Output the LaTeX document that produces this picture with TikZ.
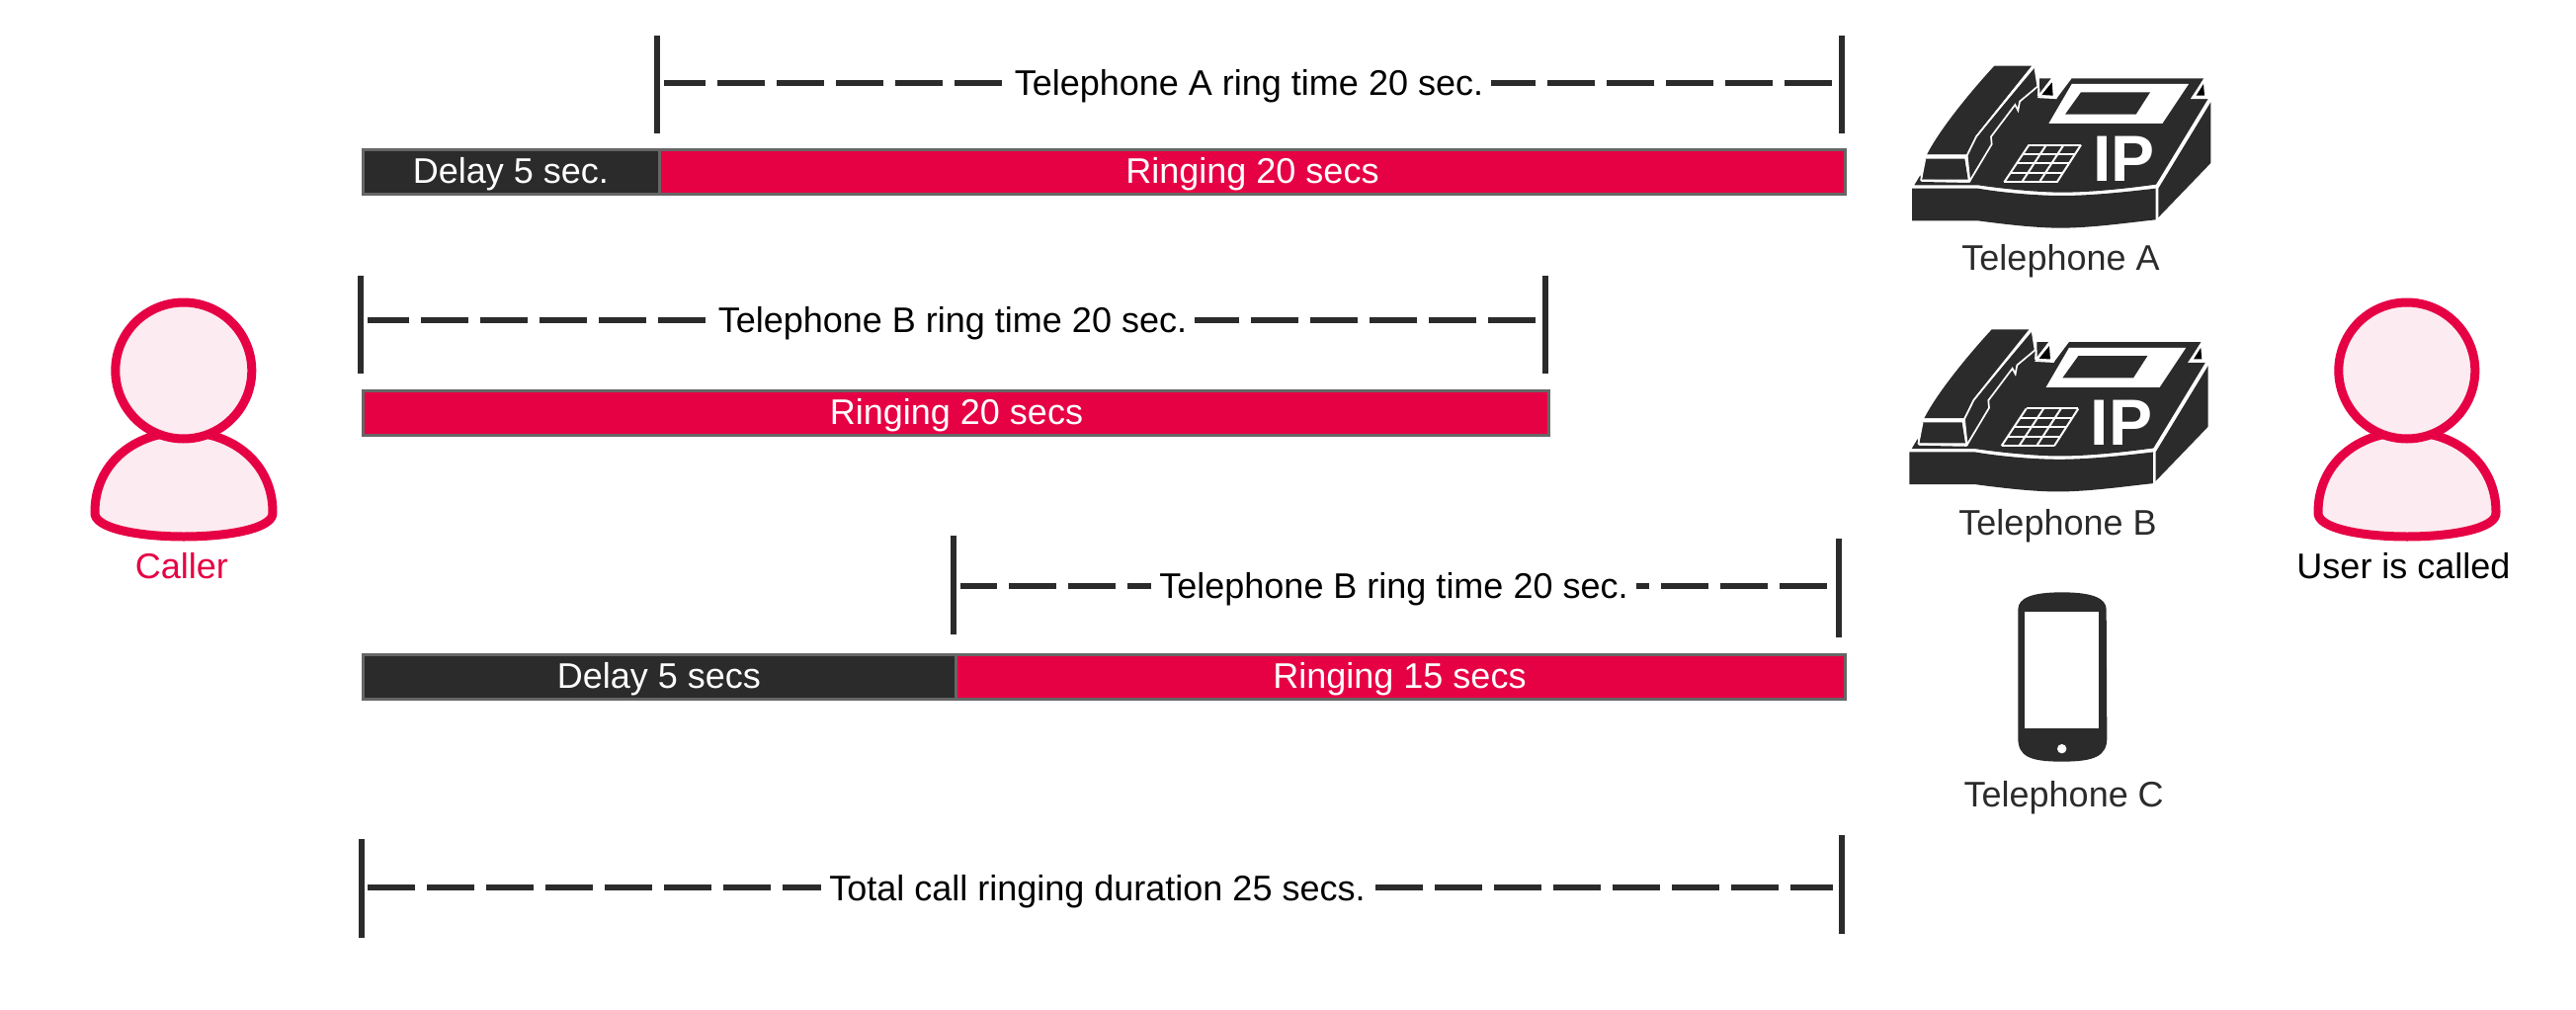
\documentclass[tikz,border=0pt]{standalone}
\usepackage{fontspec}
\setmainfont{Liberation Sans}
\definecolor{ink}{HTML}{2B2B2B}
\definecolor{crimson}{HTML}{E60044}
\definecolor{blush}{HTML}{FCEBF1}
\definecolor{edgegrey}{HTML}{666666}
\tikzset{
  every node/.style={font=\fontsize{36}{43}\selectfont, inner sep=0pt},
  tickline/.style={draw=ink, line width=6pt},
  dimline/.style={draw=ink, line width=6pt, dash pattern=on 48pt off 12pt},
  dimlabel/.style={anchor=base, fill=white, text=black, inner xsep=8pt},
  darkbar/.style={draw=edgegrey, line width=3pt, fill=ink, outer sep=0pt},
  redbar/.style={draw=edgegrey, line width=3pt, fill=crimson, outer sep=0pt},
  barlabel/.style={anchor=base, text=white},
  caption/.style={anchor=base, text=ink},
  wl/.style={draw=white, line width=1.7pt, line join=miter},
  kp/.style={draw=white, line width=2pt},
  person/.pic={
    \path[draw=crimson, line width=9pt, fill=blush, line join=round]
      (96,518) .. controls (96,470) and (135,437) .. (186,437)
      .. controls (237,437) and (276,470) .. (276,518)
      .. controls (278,535) and (230,543) .. (186,543)
      .. controls (142,543) and (94,535) .. (96,518) -- cycle;
    \path[draw=crimson, line width=9pt, fill=blush] (185.8,375) circle [radius=69pt];
  },
  deskphone/.pic={
    \begin{scope}[x=0.33333pt, y=-0.33333pt]
      % front face
      \fill[ink] (105,452) -- (305,452) .. controls (400,468) and (500,474) .. (560,474)
        .. controls (650,474) and (760,462) .. (845,452) -- (845,547)
        .. controls (760,556) and (650,572) .. (555,572)
        .. controls (480,572) and (380,560) .. (305,550) -- (105,550) -- cycle;
      % right side
      \fill[ink] (853,452) -- (1012,190) -- (1012,375) -- (853,540) -- cycle;
      % deck
      \fill[ink] (112,442) -- (130,412) -- (135,432) -- (280,435) -- (345,322) -- (345,295)
        -- (418,200) -- (428,215) -- (432,190) -- (487,145) -- (485,172) -- (545,178) -- (590,118)
        -- (990,118) -- (955,178) -- (1005,178) -- (846,440)
        .. controls (760,452) and (650,464) .. (560,464)
        .. controls (500,464) and (400,456) .. (305,442) -- cycle;
      % cradle pieces
      \fill[ink] (492,118) -- (527,118) -- (493,162) -- cycle;
      \fill[black] (530,130) -- (533,170) -- (498,168) -- cycle;
      \fill[black] (990,135) -- (993,170) -- (968,170) -- cycle;
      % handset
      \fill[ink] (150,350) .. controls (190,270) and (290,150) .. (355,80) -- (468,80)
        -- (300,290) -- (270,350) -- cycle;
      \fill[ink] (478,85) -- (487,142) -- (432,188) -- (427,215) -- (418,198) -- (345,295)
        -- (347,318) -- (280,425) -- (272,355) -- (302,295) -- cycle;
      \fill[ink] (145,362) -- (265,362) -- (275,425) -- (135,425) -- cycle;
      % white rules
      \draw[wl] (472,82) -- (300,295) -- (272,352) -- (150,352);
      \draw[wl] (272,352) -- (280,430) -- (132,428);
      \draw[wl] (145,362) -- (132,428);
      \draw[wl] (478,85) -- (487,142) -- (432,188) -- (427,215) -- (418,198) -- (345,295)
        -- (347,318) -- (280,430);
      \draw[wl] (527,125) -- (490,175) -- (545,178);
      \draw[wl] (990,125) -- (955,178) -- (1008,178);
      \draw[wl] (107,447) -- (305,447) .. controls (400,462) and (500,469) .. (560,469)
        .. controls (650,469) and (760,457) .. (848,445) -- (1008,185);
      \draw[wl] (848,445) -- (848,546);
      % screen
      \fill[white] (520,255) -- (590,135) -- (945,135) -- (865,255) -- cycle;
      \fill[ink] (570,227) -- (618,160) -- (828,160) -- (785,227) -- cycle;
      % keypad
      \foreach \t in {0,0.25,0.5,0.75,1}
        \draw[kp] ({460-75*\t},{320+113*\t}) -- ({618-73*\t},{320+113*\t});
      \foreach \s in {0,0.3333,0.6667,1}
        \draw[kp] ({460+158*\s},320) -- ({385+160*\s},433);
      \node[anchor=base, text=white, font=\fontsize{66}{66}\selectfont\bfseries] (ip) at (749,430) {IP};
    \end{scope}
  }
}
\begin{document}
\begin{tikzpicture}[x=1pt, y=-1pt]
\useasboundingbox (0,0) rectangle (2607,1022);

% people
\pic (caller) at (0,0) {person};
\pic (user) at (2250,0) {person};
\node[caption, text=crimson] (callerlabel) at (184,585.5) {Caller};
\node[caption, text=black] (userlabel) at (2432.5,585) {User is called};

% bar 1
\node[darkbar, minimum width=300.2pt, minimum height=44.5pt, anchor=north west] (d1) at (367.5,151.5) {};
\node[redbar, minimum width=1199.8pt, minimum height=44.5pt, anchor=north west] (r1) at (667.7,151.5) {};
\node[barlabel] (d1t) at (517,185) {Delay 5 sec.};
\node[barlabel] (r1t) at (1267.5,185) {Ringing 20 secs};

% bar 2
\node[redbar, minimum width=1200pt, minimum height=44.7pt, anchor=north west] (r2) at (367.5,395.8) {};
\node[barlabel] (r2t) at (968,429.3) {Ringing 20 secs};

% bar 3
\node[darkbar, minimum width=600.2pt, minimum height=45pt, anchor=north west] (d3) at (367.5,662.5) {};
\node[redbar, minimum width=899.8pt, minimum height=45pt, anchor=north west] (r3) at (967.7,662.5) {};
\node[barlabel] (d3t) at (667,696) {Delay 5 secs};
\node[barlabel] (r3t) at (1416.5,696) {Ringing 15 secs};

% dimension 1
\coordinate (a1t) at (665,35.7);   \coordinate (a1b) at (665,135);
\coordinate (b1t) at (1864.3,35.7);\coordinate (b1b) at (1864.3,135);
\coordinate (c1r) at (1854,83.7);  \coordinate (c1l) at (672.3,83.7);
\draw[tickline] (a1t) -- (a1b);
\draw[tickline] (b1t) -- (b1b);
\draw[dimline] (c1r) -- (c1l);
\node[dimlabel] (t1) at (1264,96.5) {Telephone A ring time 20 sec.};

% dimension 2
\coordinate (a2t) at (364.7,278.7); \coordinate (a2b) at (364.7,378.3);
\coordinate (b2t) at (1564,278.7);  \coordinate (b2b) at (1564,378.3);
\coordinate (c2r) at (1554,323.7);  \coordinate (c2l) at (371.7,323.7);
\draw[tickline] (a2t) -- (a2b);
\draw[tickline] (b2t) -- (b2b);
\draw[dimline] (c2r) -- (c2l);
\node[dimlabel] (t2) at (964,336.5) {Telephone B ring time 20 sec.};

% dimension 3
\coordinate (a3t) at (965,542.3);   \coordinate (a3b) at (965,641.7);
\coordinate (b3t) at (1861.3,545);  \coordinate (b3b) at (1861.3,645);
\coordinate (c3r) at (1848.7,593.3);  \coordinate (c3l) at (972.3,593.3);
\draw[tickline] (a3t) -- (a3b);
\draw[tickline] (b3t) -- (b3b);
\draw[dimline] (c3r) -- (c3l);
\node[dimlabel] (t3) at (1410.5,605.5) {Telephone B ring time 20 sec.};

% dimension 4
\coordinate (a4t) at (366,849.3);   \coordinate (a4b) at (366,949);
\coordinate (b4t) at (1864,845);    \coordinate (b4b) at (1864,945);
\coordinate (c4l) at (372.3,897.8); \coordinate (c4r) at (1855,897.8);
\draw[tickline] (a4t) -- (a4b);
\draw[tickline] (b4t) -- (b4b);
\draw[dimline] (c4l) -- (c4r);
\node[dimlabel] (t4) at (1110.5,911.5) {Total call ringing duration 25 secs.};

% desk phones
\pic (phonea) at (1900,40) {deskphone};
\pic (phoneb) at (1897.3,306.8) {deskphone};
\node[caption] (alabel) at (2085.5,273.8) {Telephone A};
\node[caption] (blabel) at (2082.5,541) {Telephone B};

% mobile
\begin{scope}[shift={(1980,580)}, x=0.33333pt, y=-0.33333pt]
  \fill[ink] (187,110) .. controls (187,75) and (230,58) .. (320,58)
    .. controls (410,58) and (455,75) .. (455,110) -- (457,500)
    .. controls (457,555) and (420,572) .. (320,572)
    .. controls (220,572) and (187,555) .. (187,500) -- cycle;
  \fill[white] (208,118) rectangle (433,471);
  \fill[white] (320,533) circle [radius=4.7pt];
\end{scope}
\node[caption] (clabel) at (2088.7,816) {Telephone C};
\end{tikzpicture}
\end{document}
